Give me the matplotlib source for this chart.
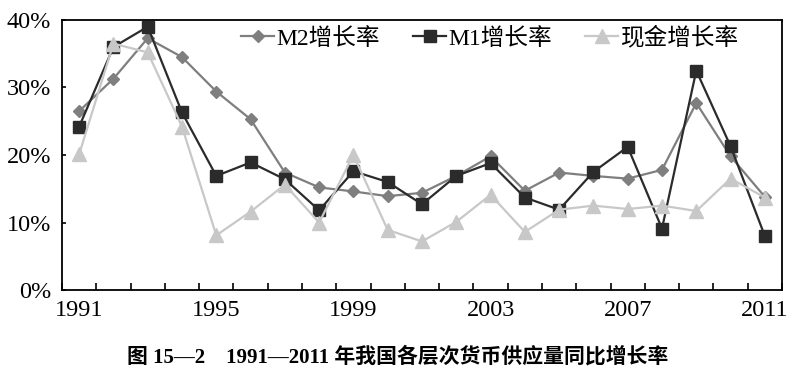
import numpy as np
import matplotlib
matplotlib.use('Agg')
import matplotlib.pyplot as plt

plt.rcParams['font.family'] = ['Liberation Serif', 'Noto Sans CJK SC']

years = list(range(1991, 2012))
m2 = [26.5, 31.3, 37.3, 34.5, 29.4, 25.3, 17.4, 15.2, 14.6, 13.9, 14.4,
      16.9, 19.8, 14.7, 17.4, 16.9, 16.5, 17.8, 27.7, 19.8, 13.8]
m1 = [24.2, 36.0, 39.0, 26.3, 16.9, 18.9, 16.4, 11.8, 17.6, 16.0, 12.7,
      16.9, 18.8, 13.7, 11.9, 17.5, 21.2, 9.1, 32.5, 21.3, 8.0]
cash = [20.1, 36.5, 35.2, 24.2, 8.1, 11.6, 15.6, 10.0, 20.0, 8.9, 7.2,
        10.1, 14.1, 8.6, 11.9, 12.5, 12.0, 12.5, 11.7, 16.5, 13.7]
xlabels = ['1991', '1995', '1999', '2003', '2007', '2011']
title = '图 15—2    1991—2011 年我国各层次货币供应量同比增长率'

x = np.arange(len(years))

fig = plt.figure(figsize=(7.96, 3.78), dpi=100)
ax = fig.add_axes([0.0779, 0.2328, 0.9045, 0.7143])

ax.plot(x, m2, color='#7f7f7f', lw=1.6, marker='D', ms=6.5, label='M2增长率')
ax.plot(x, m1, color='#2b2b2b', lw=1.6, marker='s', ms=8.5, label='M1增长率')
ax.plot(x, cash, color='#c8c8c8', lw=1.6, marker='^', ms=9.5, label='现金增长率')

ax.set_xlim(-0.5, 20.5)
ax.set_ylim(0, 40)
ax.set_yticks([0, 10, 20, 30, 40])
ax.set_yticklabels(['0%', '10%', '20%', '30%', '40%'])
ax.set_xticks([years.index(int(s)) for s in xlabels])
ax.set_xticklabels(xlabels)
ax.set_xticks(np.arange(-0.5, 21, 1), minor=True)
ax.tick_params(axis='x', which='major', length=0, pad=7, labelsize=17.5)
ax.tick_params(axis='x', which='minor', direction='in', length=5, width=1.2)
ax.tick_params(axis='y', direction='in', length=3, width=1.2, pad=8, labelsize=17.5)
for s in ax.spines.values():
    s.set_linewidth(1.3)

ax.legend(loc='upper right', bbox_to_anchor=(0.94, 0.975), ncol=3, frameon=False,
          fontsize=17, handlelength=1.4, handletextpad=0.1, columnspacing=1.4,
          borderaxespad=0, borderpad=0)

fig.text(0.5, 0.04, title, ha='center', fontsize=15, fontweight='bold')

plt.savefig('out.png', dpi=100)
